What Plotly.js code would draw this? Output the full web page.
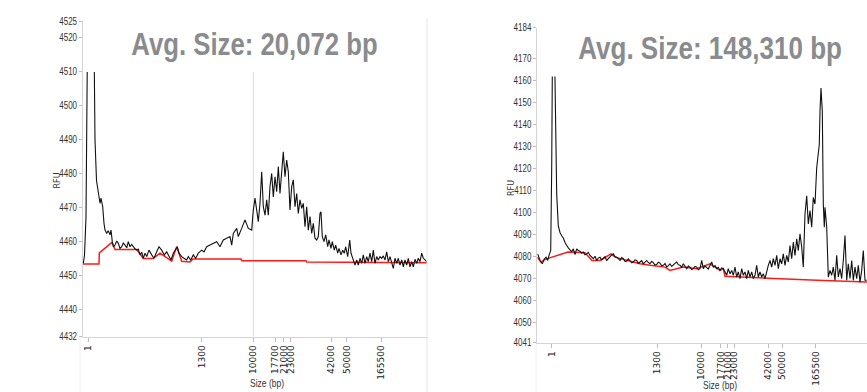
<!DOCTYPE html>
<html>
<head>
<meta charset="utf-8">
<script src="https://cdn.plot.ly/plotly-3.0.1.min.js"></script>
<style>html,body{margin:0;padding:0;background:#fff;}#chart{width:867px;height:392px;}</style>
</head>
<body>
<div id="chart"></div>
<script>
// ---------- shared ladder (tick labels) ----------
const sizeLabels = ['1','1300','10000','17700','21000','23000','42000','50000','165500'];
const leftLadderScan  = [5.3,118.7,170.3,192,200.7,207.7,248,263.7,298];
const rightLadderScan = [14.4,120,163.7,183.4,190.4,197,231,245,278.4];
const leftYTicks  = [4432,4440,4450,4460,4470,4480,4490,4500,4510,4520,4525];
const rightYTicks = [4041,4050,4060,4070,4080,4090,4100,4110,4120,4130,4140,4150,4160,4170,4184];
const leftTitle = 'Avg. Size: 20,072 bp';
const rightTitle = 'Avg. Size: 148,310 bp';

// ---------- left sample (scan, RFU) ----------
const leftScan = [0.3,1.5,3.0,3.8,4.5,11.0,12.0,13.5,15.3,17.0,18.0,19.7,21.0,22.0,23.7,25.3,27.0,28.0,29.3,30.3,
32.0,33.7,35.3,37.0,38.7,40.3,42.0,43.7,45.3,47.0,48.7,50.3,52.0,53.7,55.3,57.0,58.7,60.3,62.0,63.7,
66.0,68.7,71.0,73.7,76.0,78.7,81.3,83.7,86.0,88.0,90.3,92.7,94.3,96.0,98.7,101.0,103.7,105.3,107.7,110.3,
112.7,115.3,118.7,121.0,123.7,127.0,130.3,133.7,137.0,140.3,143.7,147.0,148.7,150.3,153.7,155.3,158.7,162.0,165.3,168.7,
170.3,172.0,173.7,175.3,177.0,178.7,180.3,182.0,183.7,185.3,187.0,188.7,190.3,192.0,193.7,195.3,197.0,198.7,200.3,202.0,
203.7,205.3,207.0,208.7,210.3,212.0,213.7,215.3,217.0,218.7,220.3,222.0,223.7,225.3,227.0,228.7,230.3,232.0,233.7,235.3,
237.0,238.0,239.3,241.0,242.7,244.7,246.0,248.0,249.3,251.3,252.7,254.7,256.0,258.0,259.7,261.3,262.7,264.7,266.7,268.0,
270.0,272.0,273.7,275.3,277.0,278.7,280.3,282.0,283.7,285.3,287.0,288.7,290.3,292.0,293.7,295.3,297.0,298.7,300.3,302.0,
303.7,305.3,307.0,308.7,310.3,312.0,313.7,315.3,317.0,318.7,320.3,322.0,323.7,325.3,327.0,328.7,330.3,332.0,333.7,335.3,
337.0,338.7,340.3,342.0,343.7];
const leftRFU = [4453.6,4456,4467.3,4490,4520,4520,4490,4478,4474.2,4471.3,4472.8,4470.3,4465.4,4463.4,4462.5,4463.2,4462,4463.4,4460,4458.5,
4459.0,4460.2,4459.5,4458.0,4458.5,4459.6,4459.0,4458.2,4460.0,4458.5,4459.2,4458.5,4457.9,4457.5,4457.8,4456.1,4456.9,4455.1,4456.6,4455.6,
4457.5,4456.1,4455.1,4457.0,4458.5,4457.5,4456.1,4457.0,4455.6,4454.6,4456.6,4458.0,4458.5,4456.6,4455.6,4455.1,4454.6,4455.6,4454.6,4456.1,
4455.1,4456.6,4457.5,4457.0,4458.5,4459.0,4459.5,4460.0,4458.5,4460.5,4461.0,4461.5,4459.0,4462.4,4463.9,4461.5,4463.9,4466.4,4463.9,4463.4,
4469.3,4472.8,4469.3,4465.9,4471.3,4480.6,4470.3,4467.8,4472.3,4467.8,4476.2,4480.1,4473.2,4479.1,4474.7,4482.1,4474.2,4480.1,4486.5,4479.1,
4484.0,4480.6,4469.3,4476.2,4478.2,4470.3,4474.2,4468.3,4472.3,4469.8,4471.3,4464.4,4470.3,4463.4,4467.4,4462.4,4465.4,4461.0,4460.5,4461.5,
4468.3,4468.8,4461.5,4460.0,4462.0,4458.5,4460.5,4458.0,4460.0,4457.5,4459.0,4456.6,4458.0,4456.1,4457.5,4456.6,4458.5,4455.6,4460.5,4456.6,
4455.1,4453.1,4454.6,4453.1,4455.1,4453.6,4456.1,4453.6,4455.6,4454.1,4456.6,4454.1,4457.5,4453.6,4455.6,4454.6,4455.6,4455.1,4455.8,4454.6,
4457.0,4454.1,4455.6,4453.6,4452.1,4455.1,4453.6,4455.1,4453.1,4454.6,4452.6,4454.6,4453.1,4455.1,4452.6,4454.1,4452.6,4454.8,4453.6,4455.1,
4454.1,4456.6,4455.1,4454.6,4454.1];
const leftBaseScan = [0,16.0,16.3,28.7,30.0,32.0,53.7,60.3,70.0,77.0,88.7,93.7,98.7,107.0,110.0,158.0,158.7,223.0,223.7,344.0];
const leftBaseRFU  = [4453.4,4453.4,4456.7,4459.7,4459.2,4457.7,4457.7,4455.0,4455.0,4456.6,4454.3,4458.5,4454.2,4454.0,4454.9,4454.9,4454.4,4454.4,4454.0,4453.8];

// ---------- right sample (scan, RFU) ----------
const rightScan = [0.4,2.7,5.0,7.0,8.7,10.4,11.7,13.4,14.4,15.2,17.2,18.4,19.4,21.0,22.7,24.4,26.0,27.7,29.4,31.0,
32.7,34.4,36.0,37.7,39.4,41.0,42.7,44.4,46.0,47.7,49.4,51.0,52.7,54.4,56.0,57.7,59.4,61.0,62.7,64.4,
66.0,67.7,69.4,71.0,72.7,74.4,76.0,77.7,79.4,81.0,82.7,84.4,86.0,87.7,89.4,91.0,92.7,94.4,96.0,97.7,
99.4,101.0,102.7,104.4,106.0,107.7,109.4,111.0,112.7,114.4,116.0,117.7,119.4,121.0,122.7,124.4,126.0,127.7,129.4,131.0,
132.7,134.4,136.0,137.7,139.4,141.0,142.7,144.4,146.0,147.7,149.4,151.0,152.7,154.4,156.0,157.7,159.4,161.0,162.7,164.4,
166.0,167.7,169.4,171.0,172.7,174.4,176.0,177.7,179.4,181.0,182.7,184.4,186.0,187.7,189.4,191.0,192.7,194.4,196.0,197.7,
199.4,201.0,202.7,204.4,206.0,207.7,209.4,211.0,212.7,214.4,216.0,217.7,219.4,221.0,222.7,224.4,226.0,227.7,229.4,231.0,
232.7,234.4,236.0,237.7,239.4,241.0,242.7,244.4,246.0,247.7,249.4,251.0,252.7,254.4,256.0,257.7,259.4,261.0,262.7,264.4,
266.0,267.7,269.4,271.0,272.7,274.4,276.0,277.7,279.4,281.0,282.0,282.7,283.7,285.0,286.0,287.0,287.7,289.4,291.0,292.7,
294.4,296.0,297.7,299.4,301.0,302.7,304.4,306.0,307.7,309.4,311.0,312.7,314.4,316.0,317.7,319.4,321.0,322.7,324.4,326.0,
327.7,329.4];
const rightRFU = [4081.3,4078.3,4076.8,4079.0,4079.8,4078.3,4080.6,4082.8,4120,4176,4176,4123.4,4108.4,4094,4091,4089.5,4088.5,4086.5,4085,4084,
4083.1,4082.3,4083.6,4081,4083.6,4082.8,4082.5,4081.6,4082.1,4080.9,4081.3,4082.0,4080.6,4079.6,4079.1,4080.2,4078.3,4079.4,4079.8,4078.6,
4079.1,4080.0,4078.3,4079.2,4079.8,4080.8,4081.3,4080.1,4079.8,4078.9,4078.3,4079.6,4079.1,4077.9,4078.0,4079.0,4078.3,4077.2,4077.6,4078.6,
4078.3,4077.0,4077.6,4078.2,4076.8,4077.6,4078.3,4077.4,4076.8,4077.9,4077.3,4076.2,4076.5,4077.5,4077.1,4075.9,4076.1,4076.9,4075.3,4076.0,
4076.8,4075.6,4076.1,4077.0,4077.6,4076.4,4076.1,4075.2,4076.8,4075.5,4074.6,4075.8,4075.3,4074.2,4074.6,4075.6,4075.3,4074.1,4074.6,4078.3,
4074.6,4075.9,4075.3,4074.4,4076.1,4077.6,4075.3,4076.0,4074.6,4075.2,4073.8,4074.9,4074.6,4073.0,4071.6,4074.6,4072.3,4073.8,4071.6,4075.3,
4070.8,4073.1,4070.1,4074.6,4071.6,4073.1,4070.1,4073.8,4070.8,4073.1,4070.1,4071.6,4076.1,4070.8,4073.1,4070.8,4072.3,4070.1,4073.8,4076.1,
4078.3,4075.3,4079.1,4076.1,4080.6,4074.6,4079.1,4076.8,4081.3,4076.1,4080.6,4077.6,4085.1,4079.1,4086.6,4080.6,4088.1,4082.8,4090.4,4084.4,
4075.3,4099.4,4107.7,4094.9,4100.9,4093.4,4106.9,4103.9,4120.4,4129.5,4131,4146,4156.5,4146,4103.9,4093.4,4102.4,4093.4,4070.8,4073.8,
4071.6,4075.3,4069.3,4080.6,4070.8,4074.6,4070.1,4078.3,4089.6,4069.3,4076.8,4070.1,4078.3,4069.3,4075.3,4070.1,4076.1,4068.5,4073.8,4082.8,
4069.3,4069.3];
const rightBaseScan = [0,3.7,7.7,14.7,30.7,47.7,54.7,62.7,73.7,77.7,102.7,112.7,127.7,132.7,146.0,159.4,172.7,182.7,186.0,187.7,225.7,259.7,279.7,329.7];
const rightBaseRFU  = [4079.8,4077.6,4078.8,4079.8,4082.1,4081.8,4078.3,4078.3,4081.3,4079.8,4076.8,4076.1,4075.3,4073.8,4075.3,4074.6,4076.8,4073.8,4074.6,4071.1,4070.5,4069.7,4069.3,4068.5];

// ---------- styling ----------
const W = 867, H = 392;
const sans = 'Liberation Sans, Arial, sans-serif';
const dv = 'DejaVu Sans, sans-serif';
const px = v => v / W;
const py = v => 1 - v / H;

const traces = [
  {x: leftBaseScan, y: leftBaseRFU, xaxis: 'x', yaxis: 'y', mode: 'lines', line: {color: '#ff1a1a', width: 1.5}, hoverinfo: 'skip'},
  {x: rightBaseScan, y: rightBaseRFU, xaxis: 'x2', yaxis: 'y2', mode: 'lines', line: {color: '#ff1a1a', width: 1.5}, hoverinfo: 'skip'},
  {x: leftScan, y: leftRFU, xaxis: 'x', yaxis: 'y', mode: 'lines', line: {color: '#111', width: 1.1}, hoverinfo: 'skip'},
  {x: rightScan, y: rightRFU, xaxis: 'x2', yaxis: 'y2', mode: 'lines', line: {color: '#111', width: 1.1}, hoverinfo: 'skip'}
];

const xCommon = {
  showgrid: false, zeroline: false, showline: true, linecolor: '#d4d4d4', linewidth: 1,
  ticks: 'outside', ticklen: 4, tickcolor: '#bdbdbd', tickangle: -90,
  tickfont: {family: dv, size: 9, color: '#222'}, tickmode: 'array', ticktext: sizeLabels
};
const yCommon = {
  showgrid: false, zeroline: false, showline: true, linecolor: '#d4d4d4', linewidth: 1,
  ticks: 'outside', ticklen: 3, tickcolor: '#bdbdbd',
  tickfont: {family: sans, size: 10, color: '#333'}, tickmode: 'array'
};

const layout = {
  width: W, height: H, margin: {l: 0, r: 0, t: 0, b: 0},
  paper_bgcolor: '#fff', plot_bgcolor: '#fff', showlegend: false,
  xaxis: Object.assign({}, xCommon, {domain: [px(83), px(427)], range: [0, 344], anchor: 'y', tickvals: leftLadderScan}),
  yaxis: Object.assign({}, yCommon, {domain: [py(336.7), py(21)], range: [4432, 4525], anchor: 'x', tickvals: leftYTicks}),
  xaxis2: Object.assign({}, xCommon, {domain: [px(537.3), 1], range: [0, 329.7], anchor: 'y2', tickvals: rightLadderScan}),
  yaxis2: Object.assign({}, yCommon, {domain: [py(342.7), py(27.5)], range: [4041, 4184], anchor: 'x2', tickvals: rightYTicks}),
  shapes: [
    {type: 'line', xref: 'x', yref: 'y', x0: leftLadderScan[2], x1: leftLadderScan[2], y0: 4432, y1: 4525, line: {color: '#ddd6f0', width: 1}, layer: 'below'},
    {type: 'rect', xref: 'x', yref: 'y', x0: 0.8, x1: 344, y0: 4510, y1: 4525, fillcolor: '#fff', line: {width: 0}, layer: 'above'},
    {type: 'rect', xref: 'x2', yref: 'y2', x0: 0.8, x1: 329.7, y0: 4161.8, y1: 4184, fillcolor: '#fff', line: {width: 0}, layer: 'above'},
    {type: 'line', xref: 'paper', yref: 'paper', x0: px(427), x1: px(427), y0: py(392), y1: py(18), line: {color: '#e6e6e6', width: 1}, layer: 'above'},
    {type: 'line', xref: 'paper', yref: 'paper', x0: px(80), x1: px(80), y0: py(392), y1: py(338), line: {color: '#eeeeee', width: 1}},
    {type: 'line', xref: 'paper', yref: 'paper', x0: px(536), x1: px(536), y0: py(392), y1: py(344), line: {color: '#eeeeee', width: 1}}
  ],
  annotations: [
    {text: leftTitle, xref: 'paper', yref: 'paper', x: px(254), y: py(44), xanchor: 'center', yanchor: 'middle', showarrow: false,
     font: {family: sans, size: 31, weight: 700, color: '#898b8e'}},
    {text: rightTitle, xref: 'paper', yref: 'paper', x: px(709.5), y: py(48), xanchor: 'center', yanchor: 'middle', showarrow: false,
     font: {family: sans, size: 31, weight: 700, color: '#898b8e'}},
    {text: 'RFU', xref: 'paper', yref: 'paper', x: px(57), y: py(180.5), textangle: -90, showarrow: false, xanchor: 'center', yanchor: 'middle',
     font: {family: dv, size: 8, color: '#333'}},
    {text: 'RFU', xref: 'paper', yref: 'paper', x: px(511), y: py(188), textangle: -90, showarrow: false, xanchor: 'center', yanchor: 'middle',
     font: {family: dv, size: 8, color: '#333'}},
    {text: 'Size (bp)', xref: 'paper', yref: 'paper', x: px(266.7), y: py(383), showarrow: false, xanchor: 'center', yanchor: 'middle',
     font: {family: sans, size: 10, color: '#333'}},
    {text: 'Size (bp)', xref: 'paper', yref: 'paper', x: px(720), y: py(385.5), showarrow: false, xanchor: 'center', yanchor: 'middle',
     font: {family: sans, size: 10, color: '#333'}}
  ]
};

// horizontally condense a text element (Arial -> Arial Narrow look)
function condense(el, s, anchor) {
  const b = el.getBBox();
  const ax = anchor === 'right' ? b.x + b.width : b.x + b.width / 2;
  const prev = el.getAttribute('transform') || '';
  el.setAttribute('transform', prev + ' translate(' + ax + ',0) scale(' + s + ',1) translate(' + (-ax) + ',0)');
}

Plotly.newPlot('chart', traces, layout, {staticPlot: true, displayModeBar: false}).then(function (gd) {
  const annScale = [0.83, 0.84, 1, 1, 0.85, 0.85];
  gd.querySelectorAll('.annotation').forEach(function (g, i) {
    const t = g.querySelector('text.annotation-text');
    if (t && annScale[i] !== 1) condense(t, annScale[i], 'center');
  });
  gd.querySelectorAll('g.ytick text, g.y2tick text').forEach(function (t) { condense(t, 0.8, 'right'); });
});
</script>
</body>
</html>
